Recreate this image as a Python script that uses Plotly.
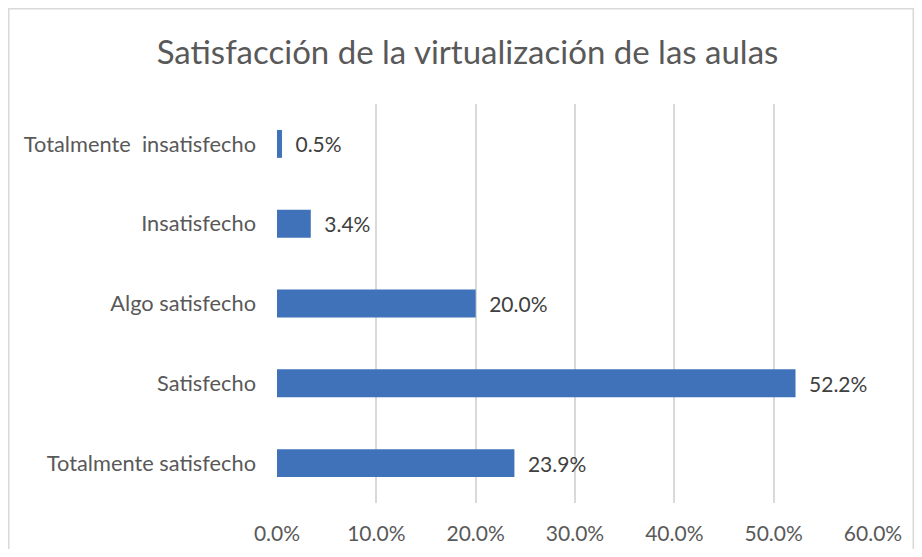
import plotly.graph_objects as go

categories = ["Totalmente  insatisfecho", "Insatisfecho", "Algo satisfecho", "Satisfecho", "Totalmente satisfecho"]
values = [0.005, 0.034, 0.200, 0.522, 0.239]
x_ticks = [0, 0.1, 0.2, 0.3, 0.4, 0.5, 0.6]

# page body has an 8px margin; figure occupies 906x541 starting at (8,8)
OFF = 8
W, H = 922 - 2 * OFF, 557 - 2 * OFF
L, R, T, B = 277 - OFF, 873 - OFF, 104 - OFF, 503 - OFF

FONT = "Lato, Open Sans, sans-serif"

fig = go.Figure(go.Bar(
    y=categories, x=values, orientation="h",
    marker=dict(color="#3F72B8", line=dict(width=0)),
    width=0.35,
    text=["\u2002" + f"{v*100:.1f}%" for v in values],
    textposition="outside",
    textfont=dict(family=FONT, size=21, color="#404040"),
    cliponaxis=False,
))

def px_x(p): return (p - L) / (R - L)
def px_y(p): return (B - p) / (B - T)

fig.update_layout(
    width=W, height=H,
    margin=dict(l=L, r=W - R, t=T, b=H - B, autoexpand=False),
    plot_bgcolor="white", paper_bgcolor="white",
    showlegend=False,
    title=dict(text="Satisfacción de la virtualización de las aulas",
               x=(467.5 - OFF) / W, xanchor="center", xref="container",
               y=1 - (52 - OFF) / H, yanchor="middle", yref="container",
               font=dict(family=FONT, size=33, color="#595959")),
    xaxis=dict(range=[0, 0.6], tickvals=x_ticks, tickformat=".1%",
               showgrid=True, gridcolor="#D9D9D9", gridwidth=2, zeroline=False,
               showline=False, ticks="", ticklabelstandoff=16, automargin=False,
               tickfont=dict(family=FONT, size=21, color="#595959")),
    yaxis=dict(categoryorder="array", categoryarray=categories, autorange="reversed",
               showgrid=False, zeroline=False, showline=False, ticks="",
               ticklabelstandoff=20, automargin=False,
               tickfont=dict(family=FONT, size=21.8, color="#595959")),
    bargap=0.65,
    shapes=[dict(type="rect", xref="paper", yref="paper",
                 x0=px_x(0.75), x1=px_x(W - 0.75), y0=px_y(H + 40), y1=px_y(0.75),
                 line=dict(color="#D9D9D9", width=1.5), layer="below")],
)

fig.write_html("out.html")
